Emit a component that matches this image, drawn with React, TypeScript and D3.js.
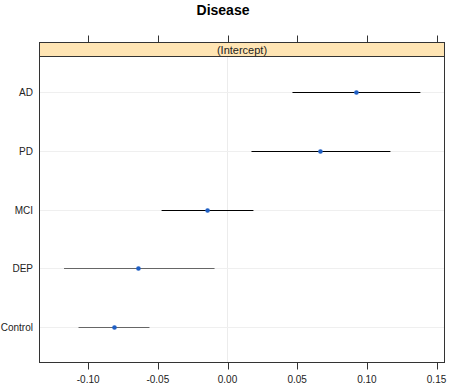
import React from "react";
import * as d3 from "d3";

const categories = ["AD", "PD", "MCI", "DEP", "Control"];
const estimates = [0.0925, 0.0667, -0.0143, -0.0639, -0.0811];
const lower = [0.0466, 0.0172, -0.0473, -0.1173, -0.1069];
const upper = [0.1384, 0.1169, 0.0186, -0.0093, -0.056];
const lineColors = ["#000000", "#000000", "#000000", "#666666", "#666666"];
const xTicks = [-0.1, -0.05, 0, 0.05, 0.1, 0.15];
const title = "Disease";
const stripLabel = "(Intercept)";

export default function App() {
  const W = 449, H = 384;
  const left = 39.5, right = 444.5, stripTop = 42.5, stripBottom = 56.5, bottom = 362.5;
  const x = d3.scaleLinear().domain([-0.1349, 0.1557]).range([left, right]);
  const y = d3.scalePoint<string>().domain(categories).range([stripBottom, bottom]).padding(0.61);
  const font = "Arial, 'Liberation Sans', sans-serif";
  return (
    <svg width={W} height={H} style={{ position: "absolute", left: 0, top: 0, background: "#fff" }}>
      <text x={223} y={15} textAnchor="middle" fontFamily={font} fontWeight="bold" fontSize={14}>{title}</text>
      {/* grid */}
      <line x1={x(0)} x2={x(0)} y1={stripBottom} y2={bottom} stroke="#ececec" strokeWidth={1} />
      {categories.map((c) => (
        <line key={c} x1={left} x2={right} y1={Math.round(y(c)!) + 0.5} y2={Math.round(y(c)!) + 0.5} stroke="#efefef" strokeWidth={1} />
      ))}
      {/* strip */}
      <rect x={left} y={stripTop} width={right - left} height={stripBottom - stripTop} fill="#ffe5b4" stroke="#333" strokeWidth={1} />
      <text x={(left + right) / 2} y={stripBottom - 3} textAnchor="middle" fontFamily={font} fontSize={11} fill="#222">{stripLabel}</text>
      {/* panel */}
      <rect x={left} y={stripBottom} width={right - left} height={bottom - stripBottom} fill="none" stroke="#333" strokeWidth={1} />
      {/* ticks */}
      {xTicks.map((t) => (
        <g key={t}>
          <line x1={Math.round(x(t)) + 0.5} x2={Math.round(x(t)) + 0.5} y1={stripTop - 7} y2={stripTop} stroke="#333" />
          <line x1={Math.round(x(t)) + 0.5} x2={Math.round(x(t)) + 0.5} y1={bottom} y2={bottom + 7} stroke="#333" />
          <text x={x(t)} y={383} textAnchor="middle" fontFamily={font} fontSize={10} fill="#222">{d3.format(".2f")(t).replace("\u2212", "-")}</text>
        </g>
      ))}
      {/* y labels */}
      {categories.map((c) => (
        <text key={c} x={33} y={y(c)! + 4} textAnchor="end" fontFamily={font} fontSize={10} fill="#222">{c}</text>
      ))}
      {/* intervals */}
      {categories.map((c, i) => (
        <g key={c}>
          <line x1={x(lower[i])} x2={x(upper[i])} y1={Math.round(y(c)!) + 0.5} y2={Math.round(y(c)!) + 0.5} stroke={lineColors[i]} strokeWidth={1.2} />
          <circle cx={x(estimates[i])} cy={Math.round(y(c)!) + 0.5} r={2.3} fill="#1f5fc4" />
        </g>
      ))}
    </svg>
  );
}
